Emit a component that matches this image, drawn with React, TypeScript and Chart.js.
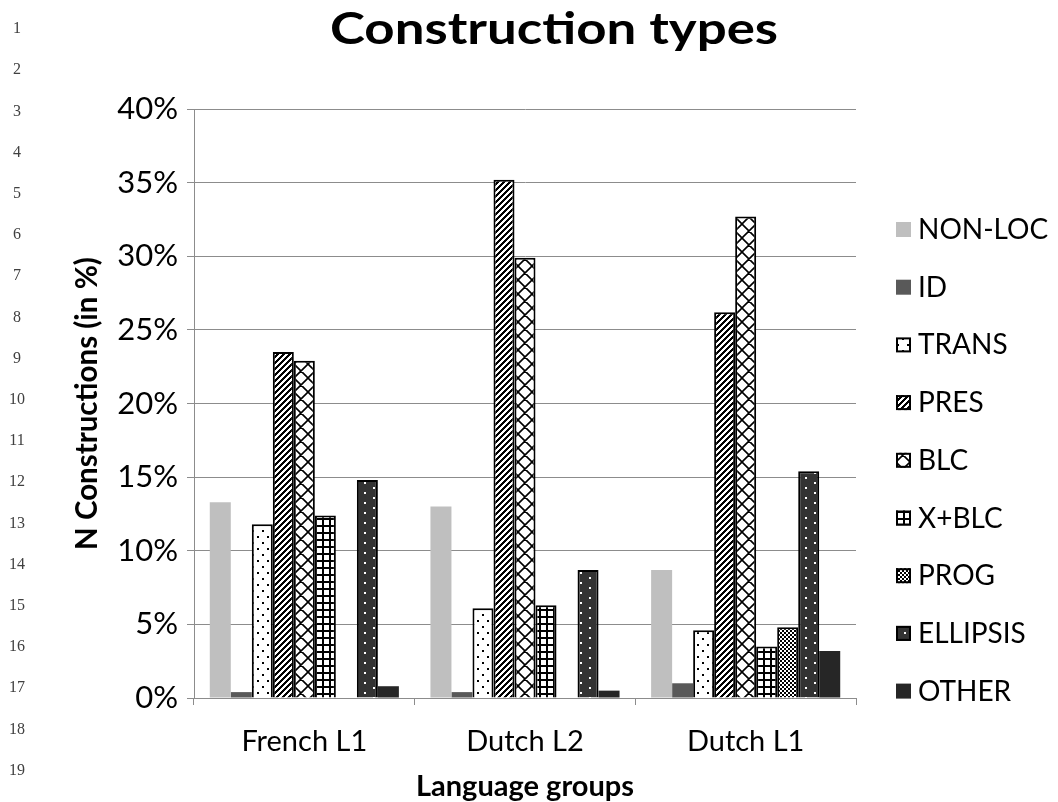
import React, { useEffect, useRef } from 'react';
import { Chart, registerables } from 'chart.js';

Chart.register(...registerables);

const categories = ['French L1', 'Dutch L2', 'Dutch L1'];
const seriesNames = ['NON-LOC', 'ID', 'TRANS', 'PRES', 'BLC', 'X+BLC', 'PROG', 'ELLIPSIS', 'OTHER'];
const nonLoc = [13.3, 13.0, 8.7];
const idVals = [0.4, 0.4, 1.0];
const trans = [11.8, 6.1, 4.6];
const pres = [23.5, 35.2, 26.2];
const blc = [22.9, 29.9, 32.7];
const xBlc = [12.4, 6.3, 3.5];
const prog = [0, 0, 4.8];
const ellipsis = [14.8, 8.7, 15.4];
const other = [0.8, 0.5, 3.2];
const lineNumbers = ['1', '2', '3', '4', '5', '6', '7', '8', '9', '10', '11', '12', '13', '14', '15', '16', '17', '18', '19'];

const TITLE = 'Construction types';
const X_TITLE = 'Language groups';
const Y_TITLE = 'N Constructions (in %)';

const FONT = 'Lato, "Open Sans", sans-serif';
const GRID = '#8c8c8c';

function makeTile(w: number, h: number, bg: string, draw: (g: CanvasRenderingContext2D) => void) {
  const c = document.createElement('canvas');
  c.width = w;
  c.height = h;
  const g = c.getContext('2d')!;
  g.fillStyle = bg;
  g.fillRect(0, 0, w, h);
  g.fillStyle = '#000';
  g.strokeStyle = '#000';
  draw(g);
  return c;
}

function buildFills(ctx: CanvasRenderingContext2D) {
  const pat = (c: HTMLCanvasElement) => ctx.createPattern(c, 'repeat') as CanvasPattern;
  const dots = makeTile(10, 12, '#fff', (g) => {
    g.fillRect(2, 2, 2, 2);
    g.fillRect(7, 8, 2, 2);
  });
  const stripes = makeTile(6, 6, '#fff', (g) => {
    for (let y = 0; y < 6; y++) for (let x = 0; x < 6; x++) if ((x + y) % 6 < 3) g.fillRect(x, y, 1, 1);
  });
  const lattice = makeTile(14, 14, '#fff', (g) => {
    g.lineWidth = 1.6;
    g.beginPath();
    for (const k of [-14, 0, 14]) {
      g.moveTo(k - 1, -1);
      g.lineTo(k + 15, 15);
      g.moveTo(k + 15, -1);
      g.lineTo(k - 1, 15);
    }
    g.stroke();
  });
  const grid = makeTile(7, 7, '#fff', (g) => {
    g.fillRect(0, 0, 7, 2);
    g.fillRect(0, 0, 2, 7);
  });
  const checker = makeTile(4, 4, '#fff', (g) => {
    g.fillRect(0, 0, 2, 2);
    g.fillRect(2, 2, 2, 2);
  });
  const ell = makeTile(18, 10, '#333333', (g) => {
    g.fillStyle = '#fff';
    g.fillRect(4, 2, 2, 2);
    g.fillRect(13, 7, 2, 2);
  });
  return [
    { bg: '#bfbfbf', border: 0 },
    { bg: '#595959', border: 0 },
    { bg: pat(dots), border: 2 },
    { bg: pat(stripes), border: 2 },
    { bg: pat(lattice), border: 2 },
    { bg: pat(grid), border: 2 },
    { bg: pat(checker), border: 2 },
    { bg: pat(ell), border: 2 },
    { bg: '#262626', border: 0 },
  ];
}

const decorPlugin = {
  id: 'decor',
  afterDraw(chart: any) {
    const ctx: CanvasRenderingContext2D = chart.ctx;
    ctx.save();
    // line numbers
    ctx.fillStyle = '#404040';
    ctx.font = '16px "Liberation Serif", "DejaVu Serif", serif';
    ctx.textAlign = 'center';
    ctx.textBaseline = 'middle';
    lineNumbers.forEach((n, i) => ctx.fillText(n, 17, 29 + i * 41.2));
    // title (slightly widened like the reference)
    ctx.save();
    ctx.fillStyle = '#000';
    ctx.font = `bold 44px ${FONT}`;
    ctx.textAlign = 'center';
    ctx.textBaseline = 'alphabetic';
    ctx.translate(554, 44);
    ctx.scale(1.2, 1);
    ctx.fillText(TITLE, 0, 0);
    ctx.restore();
    // legend
    ctx.font = `28px ${FONT}`;
    ctx.textAlign = 'left';
    ctx.textBaseline = 'alphabetic';
    chart.data.datasets.forEach((ds: any, i: number) => {
      const base = 239 + i * 57.7;
      const cy = base - 10;
      ctx.fillStyle = ds.backgroundColor;
      ctx.fillRect(896, cy - 7, 15, 15);
      if (ds.borderWidth > 0) {
        ctx.strokeStyle = '#000';
        ctx.lineWidth = 2;
        ctx.strokeRect(897, cy - 6, 13, 13);
      }
      ctx.fillStyle = '#000';
      ctx.fillText(ds.label, 918, base);
    });
    ctx.restore();
  },
};

export default function App() {
  const ref = useRef<HTMLCanvasElement | null>(null);
  useEffect(() => {
    const canvas = ref.current!;
    const ctx = canvas.getContext('2d')!;
    const fills = buildFills(ctx);
    const seriesValues = [nonLoc, idVals, trans, pres, blc, xBlc, prog, ellipsis, other];
    const datasets = seriesNames.map((name, i) => ({
      label: name,
      data: seriesValues[i],
      backgroundColor: fills[i].bg as any,
      borderColor: '#000',
      borderWidth: fills[i].border,
      categoryPercentage: 0.857,
      barPercentage: 1,
    }));
    const chart = new Chart(canvas, {
      type: 'bar',
      data: { labels: categories, datasets },
      options: {
        animation: false,
        responsive: true,
        maintainAspectRatio: false,
        devicePixelRatio: 1,
        layout: { padding: { left: 0, right: 202, top: 109, bottom: 0 } },
        plugins: {
          legend: { display: false },
          tooltip: { enabled: false },
          title: { display: false },
        },
        scales: {
          x: {
            grid: { display: true, drawOnChartArea: false, drawTicks: true, tickLength: 7, color: GRID },
            border: { color: GRID, width: 1 },
            ticks: { color: '#000', font: { family: FONT, size: 29 }, padding: 19 },
            title: {
              display: true,
              text: X_TITLE,
              color: '#000',
              font: { family: FONT, size: 29, weight: 'bold' },
              padding: { top: 0, bottom: -2 },
            },
            afterFit: (s: any) => {
              s.height = 104;
            },
          },
          y: {
            min: 0,
            max: 40,
            ticks: {
              stepSize: 5,
              callback: (v: any) => `${v}%`,
              color: '#000',
              font: { family: FONT, size: 31 },
              padding: 9,
            },
            grid: { color: GRID, tickLength: 7 },
            border: { color: GRID, width: 1 },
            title: {
              display: true,
              text: Y_TITLE,
              color: '#000',
              font: { family: FONT, size: 29.5, weight: 'bold' },
              padding: { top: 70, bottom: 0 },
            },
            afterFit: (s: any) => {
              s.width = 194;
            },
          },
        },
      } as any,
      plugins: [decorPlugin],
    });
    return () => chart.destroy();
  }, []);
  return (
    <div style={{ position: 'fixed', left: 0, top: 0, width: 1058, height: 802, background: '#fff' }}>
      <canvas ref={ref} />
    </div>
  );
}
